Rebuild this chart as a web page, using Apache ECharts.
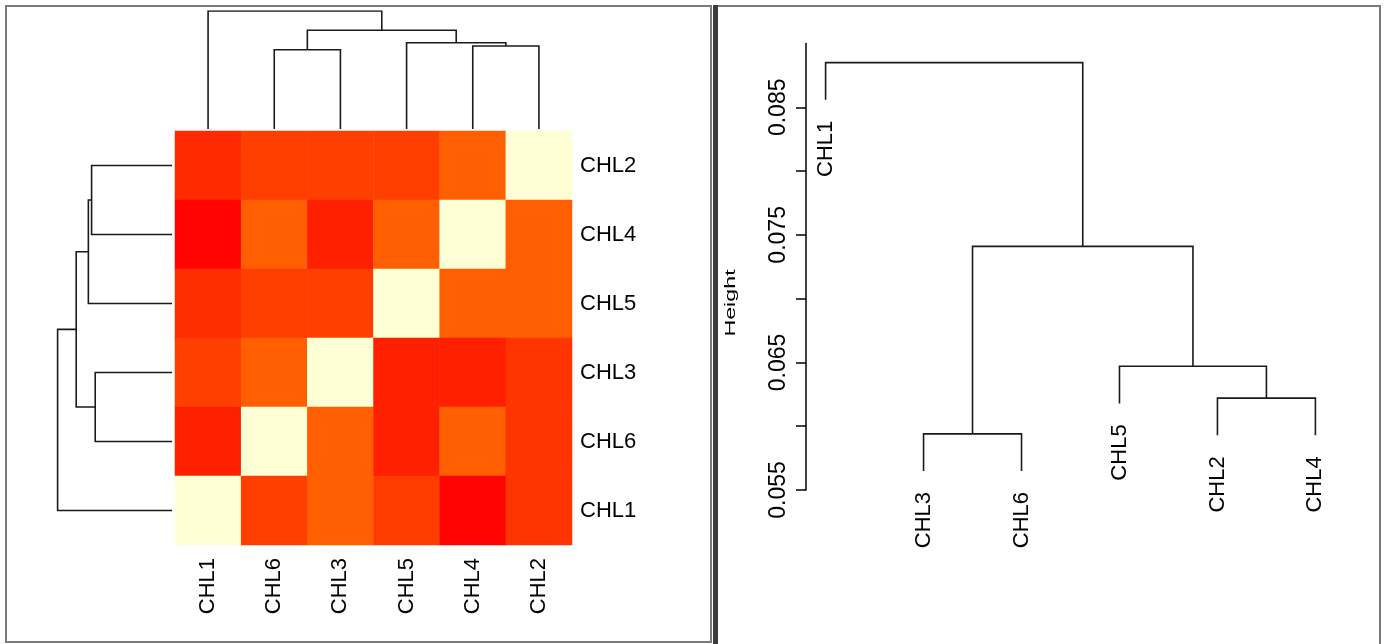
<!DOCTYPE html>
<html>
<head>
<meta charset="utf-8">
<title>CHL heatmap and cluster dendrogram</title>
<script src="https://cdn.jsdelivr.net/npm/echarts@6/dist/echarts.min.js"></script>
<style>
  html, body { margin: 0; padding: 0; background: #fff; }
  #main { width: 1387px; height: 644px; }
</style>
</head>
<body>
<div id="main"></div>
<script>
// hclust result, R style: negative = leaf index, positive = earlier merge
const labels = ['CHL1', 'CHL2', 'CHL3', 'CHL4', 'CHL5', 'CHL6'];
const merges = [[-3, -6], [-2, -4], [-5, 2], [1, 3], [-1, 4]];
const heights = [0.0594, 0.0622, 0.0647, 0.0741, 0.0885];

// heatmap ordering (columns left to right, rows top to bottom)
const colOrder = ['CHL1', 'CHL6', 'CHL3', 'CHL5', 'CHL4', 'CHL2'];
const rowOrder = ['CHL2', 'CHL4', 'CHL5', 'CHL3', 'CHL6', 'CHL1'];

// scaled values per row (same order as rowOrder), columns as colOrder
const rowCHL2 = [0.12, 0.18, 0.18, 0.18, 0.27, 1];
const rowCHL4 = [0.01, 0.27, 0.09, 0.27, 1, 0.27];
const rowCHL5 = [0.13, 0.18, 0.18, 1, 0.27, 0.27];
const rowCHL3 = [0.18, 0.27, 1, 0.09, 0.09, 0.15];
const rowCHL6 = [0.09, 1, 0.27, 0.09, 0.27, 0.15];
const rowCHL1 = [1, 0.18, 0.27, 0.17, 0.01, 0.15];
const heatRows = [rowCHL2, rowCHL4, rowCHL5, rowCHL3, rowCHL6, rowCHL1];

// leaf order of the plain dendrogram on the right
const treeOrder = ['CHL1', 'CHL3', 'CHL6', 'CHL5', 'CHL2', 'CHL4'];
const heightTicks = [0.055, 0.060, 0.065, 0.070, 0.075, 0.080, 0.085];
const heightLabels = [0.055, 0.065, 0.075, 0.085];

const heatColors = ['#FF0000', '#FF2000', '#FF4000', '#FF6000', '#FF8000', '#FF9F00',
  '#FFBF00', '#FFDF00', '#FFFF00', '#FFFF2A', '#FFFF80', '#FFFFD5'];

const FONT = 'Liberation Sans, Arial, sans-serif';

// build the U shaped segments of a dendrogram for a given leaf order
function treeSegments (order, hang) {
  const pos = {};
  order.forEach((name, i) => { pos[name] = i + 1; });
  const nodes = [];
  const segs = [];
  const tips = [];
  merges.forEach((m, k) => {
    const H = heights[k];
    const ends = m.map(c => {
      if (c < 0) {
        const name = labels[-c - 1];
        const h = hang ? H - hang : 0;
        tips.push({ name: name, value: [pos[name], h] });
        return { x: pos[name], h: h };
      }
      return nodes[c - 1];
    });
    segs.push([[ends[0].x, ends[0].h], [ends[0].x, H], [ends[1].x, H], [ends[1].x, ends[1].h]]);
    nodes.push({ x: (ends[0].x + ends[1].x) / 2, h: H });
  });
  return { segs: segs, tips: tips };
}

const maxH = Math.max.apply(null, heights);
const hang = 0.1 * (maxH - Math.min.apply(null, heights));

const topTree = treeSegments(colOrder, 0);
const leftTree = treeSegments(rowOrder, 0);
const rightTree = treeSegments(treeOrder, hang);

const heatData = [];
heatRows.forEach((row, r) => {
  row.forEach((v, c) => { heatData.push([c, r, v]); });
});

const lineStyle = { color: '#1a1a1a', width: 1.6, opacity: 1 };

const chart = echarts.init(document.getElementById('main'));
chart.setOption({
  animation: false,
  backgroundColor: '#fff',
  textStyle: { fontFamily: FONT },
  graphic: [
    { type: 'rect', shape: { x: 6, y: 6, width: 705, height: 636 }, style: { fill: 'none', stroke: '#7a7a7a', lineWidth: 2 } },
    { type: 'rect', shape: { x: 716, y: 6, width: 664, height: 660 }, style: { fill: 'none', stroke: '#7a7a7a', lineWidth: 2 } },
    { type: 'rect', shape: { x: 713, y: 5, width: 5, height: 640 }, style: { fill: '#3c3c3c' } },
    {
      type: 'text', x: 731, y: 303, rotation: Math.PI / 2, scaleX: 1.55,
      style: { text: 'Height', font: '15px ' + FONT, fill: '#000', align: 'center', verticalAlign: 'middle' }
    }
  ],
  grid: [
    { left: 175, top: 131, width: 397, height: 414 },
    { left: 175, top: 11, width: 397, height: 118 },
    { left: 57.6, top: 131, width: 114.4, height: 414 },
    { left: 806, top: 43.5, width: 529, height: 446.5 }
  ],
  xAxis: [
    {
      gridIndex: 0, type: 'category', data: colOrder, position: 'bottom',
      axisLine: { show: false }, axisTick: { show: false },
      axisLabel: { rotate: 90, fontSize: 22, color: '#000', margin: 13, fontFamily: FONT }
    },
    { gridIndex: 1, type: 'value', min: 0.5, max: 6.5, show: false },
    { gridIndex: 2, type: 'value', min: 0, max: maxH, inverse: true, show: false },
    { gridIndex: 3, type: 'value', min: 0.8, max: 6.2, show: false }
  ],
  yAxis: [
    {
      gridIndex: 0, type: 'category', data: rowOrder, inverse: true, position: 'right',
      axisLine: { show: false }, axisTick: { show: false },
      axisLabel: { fontSize: 22, color: '#000', margin: 8, fontFamily: FONT }
    },
    { gridIndex: 1, type: 'value', min: 0, max: maxH, show: false },
    { gridIndex: 2, type: 'value', min: 0.5, max: 6.5, inverse: true, show: false },
    {
      gridIndex: 3, type: 'value', min: 0.055, max: 0.090, position: 'left',
      axisLine: { show: true, lineStyle: { color: '#000', width: 1.5 } },
      axisTick: { show: true, customValues: heightTicks, length: 10, lineStyle: { color: '#000', width: 1.5 } },
      axisLabel: {
        customValues: heightLabels, rotate: 90, fontSize: 23, color: '#000', margin: 16, fontFamily: FONT,
        formatter: v => Number(v).toFixed(3)
      },
      splitLine: { show: false }
    }
  ],
  visualMap: {
    type: 'continuous', show: false, min: 0, max: 1, seriesIndex: 0,
    inRange: { color: heatColors }
  },
  series: [
    {
      type: 'heatmap', xAxisIndex: 0, yAxisIndex: 0, data: heatData,
      itemStyle: { borderWidth: 0 }, emphasis: { disabled: true }, silent: true
    },
    {
      type: 'lines', coordinateSystem: 'cartesian2d', xAxisIndex: 1, yAxisIndex: 1, polyline: true,
      data: topTree.segs.map(c => ({ coords: c })), lineStyle: lineStyle, silent: true
    },
    {
      type: 'lines', coordinateSystem: 'cartesian2d', xAxisIndex: 2, yAxisIndex: 2, polyline: true,
      data: leftTree.segs.map(c => ({ coords: c.map(p => [p[1], p[0]]) })), lineStyle: lineStyle, silent: true
    },
    {
      type: 'lines', coordinateSystem: 'cartesian2d', xAxisIndex: 3, yAxisIndex: 3, polyline: true,
      data: rightTree.segs.map(c => ({ coords: c })), lineStyle: lineStyle, silent: true
    },
    {
      type: 'scatter', xAxisIndex: 3, yAxisIndex: 3, data: rightTree.tips, symbolSize: 0, silent: true,
      itemStyle: { opacity: 1 },
      label: {
        show: true, position: 'bottom', distance: 21, rotate: 90, align: 'right', verticalAlign: 'middle',
        formatter: p => p.name, fontSize: 22, color: '#000', opacity: 1, fontFamily: FONT
      }
    }
  ]
});
</script>
</body>
</html>
